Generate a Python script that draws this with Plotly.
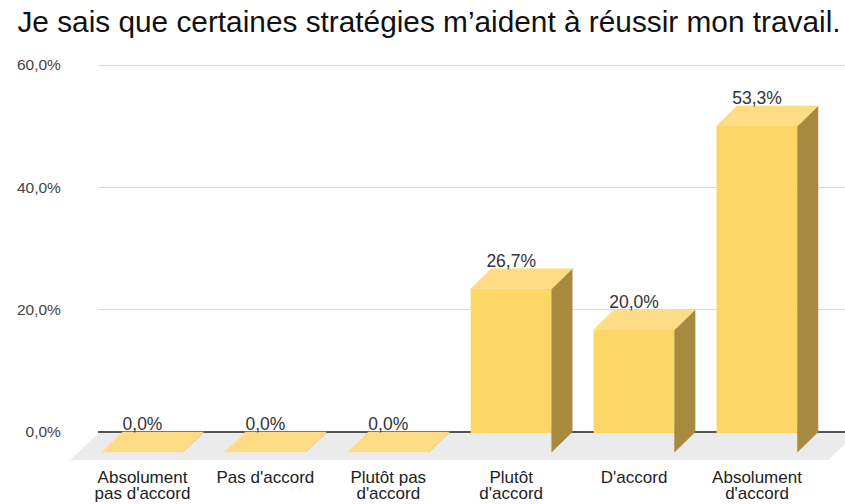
import plotly.graph_objects as go

# ---- data ----
categories = ["Absolument\npas d'accord", "Pas d'accord", "Plutôt pas\nd'accord",
              "Plutôt\nd'accord", "D'accord", "Absolument\nd'accord"]
values = [0.0, 0.0, 0.0, 26.7, 20.0, 53.3]
y_ticks = [0, 20, 40, 60]
title_text = "Je sais que certaines stratégies m’aident à réussir mon travail."

def pct(v):
    return f"{v:.1f}".replace(".", ",") + "%"

# ---- geometry (pixels) ----
W, H = 845, 504
K = (432 - 65) / 60.0          # px per %
SLOT = 122.9                   # px per category
FRONT_C0 = 142.5               # px of first front centre
BACK_ZERO = 432                # px of 0% on back plane
DEPTH_X, DEPTH_Y = 20.5, 20.0  # px depth offset
GRID_LEFT = 98

FRONT_ZERO = BACK_ZERO + DEPTH_Y
dxu = DEPTH_X / SLOT
dyu = DEPTH_Y / K
bw = 81 / SLOT

FRONT = "#FCD667"
TOP = "#FDDC85"
SIDE = "#A88A3E"
FLOOR = "#EBEBEB"
FONT = "Liberation Sans, Arial, sans-serif"

idx = list(range(len(categories)))
n = len(categories)

fig = go.Figure()

# invisible trace so the back subplot exists
fig.add_trace(go.Scatter(x=[None], y=[None], xaxis="x", yaxis="y",
                         showlegend=False, hoverinfo="skip"))

# floor
pad_l, pad_r = 0.09, 0.08
fl_front = -0.4 * dyu
fl_back = dyu - 1.0 / K
fx = [-0.5 - pad_l, n - 0.5 + pad_r, n - 0.5 + pad_r + 1.4 * dxu, -0.5 - pad_l + 1.4 * dxu, -0.5 - pad_l]
fy = [fl_front, fl_front, fl_back, fl_back, fl_front]
fig.add_trace(go.Scatter(x=fx, y=fy, xaxis="x2", yaxis="y2", mode="lines",
                         fill="toself", fillcolor=FLOOR, line=dict(width=0, color=FLOOR),
                         showlegend=False, hoverinfo="skip"))

# front faces
fig.add_trace(go.Bar(x=idx, y=values, width=bw, xaxis="x2", yaxis="y2",
                     marker=dict(color=FRONT, line=dict(width=0)),
                     showlegend=False, hoverinfo="skip"))

# side faces
sx, sy = [], []
for i, v in zip(idx, values):
    r = i + bw / 2
    sx += [r, r + dxu, r + dxu, r, r, None]
    sy += [0, dyu, v + dyu, v, 0, None]
fig.add_trace(go.Scatter(x=sx, y=sy, xaxis="x2", yaxis="y2", mode="lines",
                         fill="toself", fillcolor=SIDE, line=dict(width=0.5, color=SIDE),
                         showlegend=False, hoverinfo="skip"))

# top faces
tx, ty = [], []
for i, v in zip(idx, values):
    l, r = i - bw / 2, i + bw / 2
    tx += [l, r, r + dxu, l + dxu, l, None]
    ty += [v, v, v + dyu, v + dyu, v, None]
fig.add_trace(go.Scatter(x=tx, y=ty, xaxis="x2", yaxis="y2", mode="lines",
                         fill="toself", fillcolor=TOP, line=dict(width=0.5, color=TOP),
                         showlegend=False, hoverinfo="skip"))

# value labels
fig.add_trace(go.Scatter(x=idx, y=[v + dyu + 6.5 / K for v in values], xaxis="x2", yaxis="y2",
                         mode="text", text=[pct(v) for v in values], textposition="middle center",
                         textfont=dict(family=FONT, size=17.5, color="#333333"),
                         showlegend=False, hoverinfo="skip"))

# category labels (two lines, tight spacing)
line1 = [c.split("\n")[0] for c in categories]
line2 = [c.split("\n")[1] if "\n" in c else "" for c in categories]
fig.add_trace(go.Scatter(x=idx, y=[(FRONT_ZERO - 478.5) / K] * n, xaxis="x2", yaxis="y2",
                         mode="text", text=line1, textposition="middle center",
                         textfont=dict(family=FONT, size=17, color="#222222"),
                         showlegend=False, hoverinfo="skip"))
fig.add_trace(go.Scatter(x=idx, y=[(FRONT_ZERO - 494.5) / K] * n, xaxis="x2", yaxis="y2",
                         mode="text", text=line2, textposition="middle center",
                         textfont=dict(family=FONT, size=17, color="#222222"),
                         showlegend=False, hoverinfo="skip"))

back_c0 = FRONT_C0 + DEPTH_X
fig.update_layout(
    width=W, height=H,
    margin=dict(l=0, r=0, t=0, b=0),
    paper_bgcolor="white",
    plot_bgcolor="rgba(0,0,0,0)",
    showlegend=False,
    title=dict(text=title_text, x=429 / W, xanchor="center", xref="paper",
               y=1 - 22 / H, yanchor="middle", yref="container",
               font=dict(family=FONT, size=29.8, color="#111111")),
    xaxis=dict(domain=[GRID_LEFT / W, 1], anchor="y",
               range=[(GRID_LEFT - back_c0) / SLOT, (W - back_c0) / SLOT],
               showgrid=False, zeroline=False, showticklabels=False, showline=False, ticks=""),
    yaxis=dict(domain=[0, 1], anchor="x",
               range=[(BACK_ZERO - H) / K, BACK_ZERO / K],
               tickvals=y_ticks, ticktext=[pct(t) for t in y_ticks],
               showgrid=True, gridcolor="#D9D9D9", gridwidth=1,
               zeroline=True, zerolinecolor="#555555", zerolinewidth=1.5,
               showline=False, ticks="outside", ticklen=33, tickcolor="rgba(0,0,0,0)",
               tickfont=dict(family=FONT, size=15.5, color="#444444")),
    xaxis2=dict(domain=[0, 1], anchor="y2",
                range=[-FRONT_C0 / SLOT, (W - FRONT_C0) / SLOT], visible=False),
    yaxis2=dict(domain=[0, 1], anchor="x2",
                range=[(FRONT_ZERO - H) / K, FRONT_ZERO / K], visible=False),
)

fig.write_html("out.html", config={"displayModeBar": False},
               post_script="document.body.style.margin='0';document.body.style.overflow='hidden';")
